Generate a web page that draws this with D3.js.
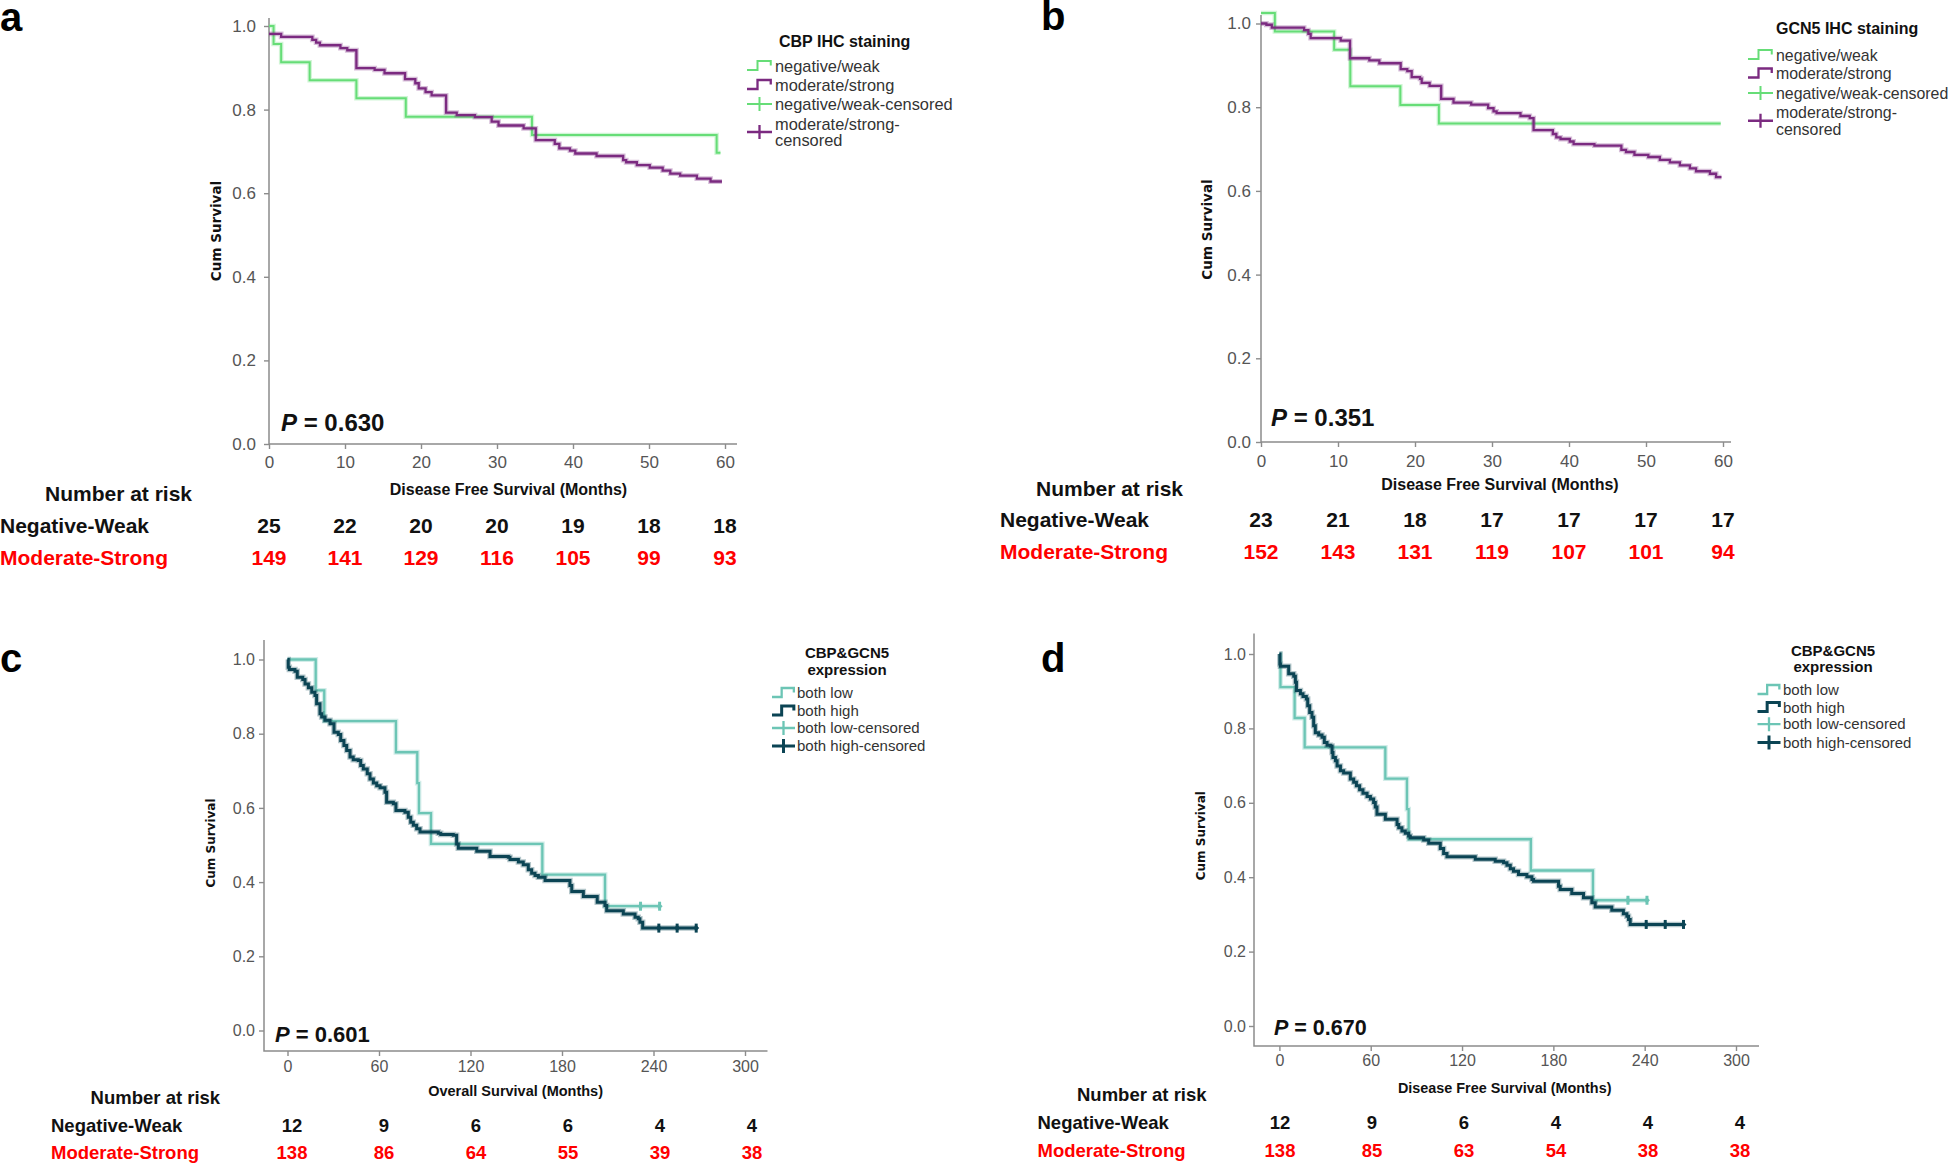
<!DOCTYPE html>
<html>
<head>
<meta charset="utf-8">
<script src="https://cdnjs.cloudflare.com/ajax/libs/d3/7.8.5/d3.min.js"></script>
<style>
  html, body { margin: 0; padding: 0; background: #fff; }
  svg { display: block; font-family: "Liberation Sans", Arial, sans-serif; }
</style>
</head>
<body>
<svg id="chart" width="1950" height="1164"></svg>
<script>
// ---- data: [time in months, cumulative survival] ----
// a: CBP IHC staining, disease free survival
var aNegWeak = [[0,1],[0.6,0.957],[1.6,0.913],[5.35,0.870],[11.5,0.827],[18,0.783],[34.6,0.739],[58.9,0.697],[59.4,0.697]];
var aModStrong = [[0,0.981],[1.6,0.974],[5.7,0.967],[6.2,0.960],[6.7,0.954],[9.4,0.947],[10.3,0.942],[11.5,0.899],
  [13.9,0.895],[15.2,0.887],[17.9,0.873],[19.25,0.863],[19.7,0.851],[20.6,0.842],[21.4,0.834],[23.3,0.793],
  [24.7,0.787],[27.1,0.782],[29.3,0.771],[30.2,0.762],[33.5,0.755],[35.1,0.727],[37.6,0.718],[38.2,0.707],
  [39.6,0.702],[40.3,0.695],[43.1,0.689],[46.6,0.679],[47.0,0.674],[48.4,0.667],[50.1,0.661],[51.8,0.654],
  [52.8,0.647],[54.1,0.642],[56.3,0.635],[58.1,0.628],[59.6,0.628]];

// b: GCN5 IHC staining, disease free survival
var bNegWeak = [[0,1.025],[1.8,0.981],[9.5,0.937],[11.6,0.850],[18.1,0.805],[23.1,0.761],[59.7,0.761]];
var bModStrong = [[0,1.0],[0.7,0.997],[1.4,0.990],[5.6,0.984],[6.15,0.975],[6.45,0.965],[10.35,0.959],[11.56,0.917],
  [14.07,0.912],[15.37,0.905],[18.14,0.891],[19.0,0.886],[19.57,0.872],[20.65,0.868],[20.87,0.858],[21.9,0.851],
  [23.4,0.820],[25.0,0.811],[27.3,0.806],[29.5,0.798],[30.2,0.790],[30.6,0.786],[33.7,0.779],[34.9,0.774],
  [35.4,0.745],[37.9,0.736],[38.35,0.728],[38.9,0.724],[40.1,0.718],[40.6,0.712],[43.3,0.708],[46.8,0.698],
  [47.4,0.693],[48.5,0.686],[50.3,0.681],[51.8,0.674],[53.1,0.668],[54.4,0.661],[55.7,0.654],[56.5,0.647],
  [58.3,0.641],[59.1,0.633],[59.8,0.633]];

// c: CBP&GCN5 expression, overall survival
var cBothLow = [[0,1],[18.5,0.917],[24.1,0.834],[71.1,0.750],[85.1,0.667],[86.2,0.586],[94.1,0.503],
  [167.1,0.420],[208.2,0.335],[244,0.335]];
var cBothHigh = [[0,1],[0.5,0.979],[1.2,0.973],[4.9,0.968],[6.4,0.952],[10.0,0.946],[11.5,0.934],[13.7,0.924],
  [15.9,0.912],[18.0,0.903],[19.1,0.881],[21.3,0.854],[22.4,0.845],[24.6,0.836],[27.9,0.827],[30.5,0.804],
  [33.3,0.798],[34.9,0.782],[37.0,0.768],[38.8,0.755],[41.0,0.737],[43.1,0.730],[46.4,0.728],[48.0,0.714],
  [49.7,0.705],[52.3,0.692],[54.1,0.678],[56.3,0.667],[58.5,0.660],[60.7,0.654],[63.9,0.642],[65.0,0.615],
  [69.4,0.611],[71.1,0.593],[77.0,0.588],[79.2,0.575],[80.8,0.561],[82.5,0.553],[84.7,0.544],[86.9,0.535],
  [98.9,0.532],[100.5,0.528],[108.7,0.526],[110.9,0.503],[112,0.491],[124.1,0.483],[132.8,0.469],[144.8,0.467],
  [145.9,0.461],[151.4,0.454],[154.6,0.447],[157.9,0.433],[160.1,0.424],[162.3,0.418],[164.5,0.413],[168.9,0.404],
  [185.2,0.391],[186.4,0.375],[194.0,0.361],[203.1,0.346],[208.2,0.337],[209.3,0.323],[220.2,0.314],[227.9,0.305],
  [230.0,0.301],[231.1,0.292],[232.9,0.276],[268,0.276]];
var cLowCensored = [231.5, 244];
var cHighCensored = [243.5, 255.5, 268];

// d: CBP&GCN5 expression, disease free survival
var dBothLow = [[0,1],[0.7,0.911],[10.0,0.828],[16.6,0.749],[69.6,0.665],[83.8,0.583],[84.9,0.502],
  [165.2,0.418],[206.0,0.338],[241.5,0.338]];
var dBothHigh = [[0,1],[0.3,0.973],[0.66,0.967],[6.1,0.947],[9.4,0.940],[10.5,0.924],[11.2,0.902],[13.8,0.893],
  [15.5,0.886],[17.7,0.879],[18.6,0.861],[19.9,0.843],[21.4,0.830],[22.5,0.807],[23.6,0.788],[25.8,0.782],
  [28.0,0.776],[29.5,0.762],[31.3,0.755],[33.5,0.753],[34.6,0.735],[35.2,0.722],[36.8,0.713],[37.9,0.699],
  [40.1,0.686],[42.2,0.680],[46.6,0.664],[48.8,0.655],[50.6,0.646],[52.7,0.635],[54.9,0.626],[57.6,0.617],
  [59.8,0.610],[61.9,0.601],[63.0,0.589],[64.1,0.569],[69.6,0.556],[77.3,0.542],[78.4,0.533],[80.5,0.524],
  [82.7,0.518],[84.9,0.511],[86.0,0.506],[94.8,0.500],[98.1,0.491],[105.7,0.477],[107.9,0.464],[110.1,0.455],
  [128.7,0.448],[141.8,0.443],[147.3,0.439],[149.5,0.432],[151.7,0.423],[153.8,0.416],[157.1,0.407],[162.6,0.401],
  [165.9,0.394],[167.0,0.389],[183.4,0.376],[184.5,0.367],[192.1,0.356],[199.8,0.345],[205.3,0.331],[207.5,0.320],
  [218.4,0.311],[226.0,0.302],[228.3,0.295],[229.4,0.286],[230.5,0.273],[265.5,0.273]];
var dLowCensored = [229, 241.5];
var dHighCensored = [241, 253.5, 265.5];

// ticks
var survTicks = [0, 0.2, 0.4, 0.6, 0.8, 1.0];
var monthTicks60 = [0, 10, 20, 30, 40, 50, 60];
var monthTicks300 = [0, 60, 120, 180, 240, 300];

// number at risk
var riskANeg = [25, 22, 20, 20, 19, 18, 18];
var riskAPos = [149, 141, 129, 116, 105, 99, 93];
var riskBNeg = [23, 21, 18, 17, 17, 17, 17];
var riskBPos = [152, 143, 131, 119, 107, 101, 94];
var riskCNeg = [12, 9, 6, 6, 4, 4];
var riskCPos = [138, 86, 64, 55, 39, 38];
var riskDNeg = [12, 9, 6, 4, 4, 4];
var riskDPos = [138, 85, 63, 54, 38, 38];

var ihcLegend = ['negative/weak', 'moderate/strong', 'negative/weak-censored', 'moderate/strong-|censored'];
var comboLegend = ['both low', 'both high', 'both low-censored', 'both high-censored'];

var GREEN = '#66dd77', PURPLE = '#7b2a80', TEAL = '#6cc5b5', DARK = '#0b4454', AXIS = '#8c8c8c';

var svg = d3.select('#chart');

function survAt(curve, t) {
  var v = curve[0][1];
  curve.forEach(function(p) { if (p[0] <= t) v = p[1]; });
  return v;
}

function drawPanel(p) {
  var g = svg.append('g');
  var x = d3.scaleLinear().domain(p.xDomain).range(p.xRange);
  var y = d3.scaleLinear().domain([0, 1]).range(p.yRange);

  // panel letter
  g.append('text').attr('x', p.letterX).attr('y', p.letterY)
    .attr('font-size', 40).attr('font-weight', 'bold').text(p.letter);

  // axes
  var yAxis = g.append('g').attr('transform', 'translate(' + p.axisX + ',0)')
    .call(d3.axisLeft(y).tickValues(survTicks).tickSize(5).tickPadding(p.yPad).tickFormat(d3.format('.1f')));
  var xAxis = g.append('g').attr('transform', 'translate(0,' + p.axisY + ')')
    .call(d3.axisBottom(x).tickValues(p.xTicks).tickSize(5).tickPadding(p.xPad).tickFormat(d3.format('d')));
  [yAxis, xAxis].forEach(function(a) {
    a.select('.domain').remove();
    a.attr('font-family', null).attr('font-size', p.tickSize);
    a.selectAll('line').attr('stroke', AXIS).attr('stroke-width', 1.4);
    a.selectAll('text').attr('fill', '#555');
  });
  g.append('path')
    .attr('d', 'M' + p.axisX + ',' + p.axisTop + 'V' + p.axisY + 'H' + p.axisRight)
    .attr('fill', 'none').attr('stroke', AXIS).attr('stroke-width', 1.5);

  // axis titles
  g.append('text').attr('transform', 'translate(' + p.cumX + ',' + p.cumY + ') rotate(-90)')
    .attr('text-anchor', 'middle').attr('dy', '0.35em')
    .attr('font-family', '"DejaVu Sans", Verdana, sans-serif').attr('font-weight', 'bold')
    .attr('font-size', p.cumSize).attr('fill', '#111').text('Cum Survival');
  g.append('text').attr('x', p.xTitleX).attr('y', p.xTitleY).attr('dy', '0.35em')
    .attr('text-anchor', 'middle').attr('font-weight', 'bold').attr('font-size', p.xTitleSize)
    .attr('fill', '#111').text(p.xTitle);

  // curves
  var line = d3.line().x(function(d) { return x(d[0]); }).y(function(d) { return y(d[1]); })
    .curve(d3.curveStepAfter);
  p.curves.forEach(function(c) {
    g.append('path').attr('d', line(c.data)).attr('fill', 'none')
      .attr('stroke', c.color).attr('stroke-opacity', 0.3).attr('stroke-width', c.width + 2.5);
    g.append('path').attr('d', line(c.data)).attr('fill', 'none')
      .attr('stroke', c.color).attr('stroke-width', c.width);
    (c.censored || []).forEach(function(t) {
      var cx = x(t), cy = y(survAt(c.data, t));
      g.append('path').attr('d', 'M' + cx + ',' + (cy - 4.5) + 'V' + (cy + 4.5))
        .attr('stroke', c.color).attr('stroke-width', 3);
      g.append('path').attr('d', 'M' + (cx - 3) + ',' + cy + 'L' + cx + ',' + (cy - 3) + 'L' + (cx + 3) + ',' + cy +
        'L' + cx + ',' + (cy + 3) + 'Z').attr('fill', c.color);
    });
  });

  // P value
  var pt = g.append('text').attr('x', p.pX).attr('y', p.pY).attr('dy', '0.35em')
    .attr('font-weight', 'bold').attr('font-size', p.pSize).attr('fill', '#111');
  pt.append('tspan').attr('font-style', 'italic').text('P');
  pt.append('tspan').text(' = ' + p.pValue);

  // legend
  var lg = p.legend;
  lg.title.forEach(function(t, i) {
    g.append('text').attr('x', lg.titleX).attr('y', lg.titleY[i]).attr('dy', '0.35em')
      .attr('text-anchor', lg.titleAnchor).attr('font-weight', 'bold').attr('font-size', lg.titleSize)
      .attr('fill', '#111').text(t);
  });
  lg.labels.forEach(function(lab, i) {
    var color = p.curves[i % 2].color, w = lg.glyphW, gx = lg.glyphX;
    var lines = lab.split('|');
    var rowY = lg.rows[i];
    var cy = lines.length > 1 ? (rowY + lg.lineGap / 2) : rowY;
    var d = i < 2
      ? 'M' + gx + ',' + (cy + 4) + 'H' + (gx + w * 0.42) + 'V' + (cy - 5) + 'H' + (gx + w * 0.95) + 'V' + (cy - 0.5)
      : 'M' + gx + ',' + cy + 'H' + (gx + w) + 'M' + (gx + w / 2) + ',' + (cy - 7) + 'V' + (cy + 7);
    g.append('path').attr('d', d).attr('fill', 'none').attr('stroke', color)
      .attr('stroke-width', p.curves[i % 2].width);
    lines.forEach(function(l, j) {
      g.append('text').attr('x', lg.textX).attr('y', rowY + j * lg.lineGap).attr('dy', '0.35em')
        .attr('font-size', lg.itemSize).attr('fill', '#333').text(l);
    });
  });

  // number at risk table
  var rk = p.risk;
  var rx = d3.scaleLinear().domain(p.xDomain).range(rk.range || p.xRange);
  g.append('text').attr('x', rk.headerX).attr('y', rk.headerY).attr('dy', '0.35em')
    .attr('font-weight', 'bold').attr('font-size', rk.size).attr('fill', '#111').text('Number at risk');
  [{name: 'Negative-Weak', vals: rk.neg, color: '#111', y: rk.rowY[0]},
   {name: 'Moderate-Strong', vals: rk.pos, color: '#ff0000', y: rk.rowY[1]}].forEach(function(r) {
    g.append('text').attr('x', rk.labelX).attr('y', r.y).attr('dy', '0.35em')
      .attr('font-weight', 'bold').attr('font-size', rk.size).attr('fill', r.color).text(r.name);
    g.selectAll(null).data(r.vals).enter().append('text')
      .attr('x', function(d, i) { return rx(p.xTicks[i]); }).attr('y', r.y).attr('dy', '0.35em')
      .attr('text-anchor', 'middle').attr('font-weight', 'bold').attr('font-size', rk.size)
      .attr('fill', r.color).text(function(d) { return d; });
  });
}

drawPanel({
  letter: 'a', letterX: 0, letterY: 31,
  xDomain: [0, 60], xRange: [269, 725], yRange: [444, 26], xTicks: monthTicks60,
  axisX: 269, axisTop: 18, axisY: 444, axisRight: 737, tickSize: 17, yPad: 8, xPad: 7,
  cumX: 216, cumY: 231, cumSize: 13.5,
  xTitle: 'Disease Free Survival (Months)', xTitleX: 508.5, xTitleY: 489, xTitleSize: 16,
  pX: 281, pY: 422.5, pSize: 24, pValue: '0.630',
  curves: [{data: aNegWeak, color: GREEN, width: 2}, {data: aModStrong, color: PURPLE, width: 2.3}],
  legend: {title: ['CBP IHC staining'], titleX: 779, titleY: [41], titleAnchor: 'start', titleSize: 16,
    labels: ihcLegend, glyphX: 747, glyphW: 25, textX: 775, rows: [66, 85, 104, 124], lineGap: 16, itemSize: 16.4},
  risk: {headerX: 45, headerY: 493.5, labelX: 0, rowY: [525.5, 557.5], size: 21, neg: riskANeg, pos: riskAPos}
});

drawPanel({
  letter: 'b', letterX: 1041, letterY: 30,
  xDomain: [0, 60], xRange: [1261, 1723], yRange: [442, 23.5], xTicks: monthTicks60,
  axisX: 1261, axisTop: 15, axisY: 442, axisRight: 1731, tickSize: 17, yPad: 5, xPad: 8,
  cumX: 1207.5, cumY: 229.5, cumSize: 13.5,
  xTitle: 'Disease Free Survival (Months)', xTitleX: 1500, xTitleY: 484, xTitleSize: 16,
  pX: 1271, pY: 418, pSize: 24, pValue: '0.351',
  curves: [{data: bNegWeak, color: GREEN, width: 2}, {data: bModStrong, color: PURPLE, width: 2.3}],
  legend: {title: ['GCN5 IHC staining'], titleX: 1776, titleY: [28], titleAnchor: 'start', titleSize: 16,
    labels: ihcLegend, glyphX: 1748, glyphW: 25, textX: 1776, rows: [55, 73.5, 93, 112], lineGap: 17.5, itemSize: 15.9},
  risk: {headerX: 1036, headerY: 488.5, labelX: 1000, rowY: [519.5, 551.5], size: 21, neg: riskBNeg, pos: riskBPos}
});

drawPanel({
  letter: 'c', letterX: 0, letterY: 672,
  xDomain: [0, 300], xRange: [287.5, 745], yRange: [1030.5, 659.5], xTicks: monthTicks300,
  axisX: 264, axisTop: 640, axisY: 1051, axisRight: 767.5, tickSize: 16, yPad: 4, xPad: 5,
  cumX: 211, cumY: 843, cumSize: 12,
  xTitle: 'Overall Survival (Months)', xTitleX: 515.6, xTitleY: 1091.3, xTitleSize: 14.5,
  pX: 275, pY: 1034, pSize: 22, pValue: '0.601',
  curves: [{data: cBothLow, color: TEAL, width: 2.3, censored: cLowCensored},
           {data: cBothHigh, color: DARK, width: 3, censored: cHighCensored}],
  legend: {title: ['CBP&GCN5', 'expression'], titleX: 847, titleY: [653, 670], titleAnchor: 'middle', titleSize: 15,
    labels: comboLegend, glyphX: 772, glyphW: 23, textX: 797, rows: [693, 711, 728, 746], lineGap: 16, itemSize: 15},
  risk: {headerX: 90.6, headerY: 1098, labelX: 51, rowY: [1126, 1153], size: 18.5,
    neg: riskCNeg, pos: riskCPos, range: [292, 752]}
});

drawPanel({
  letter: 'd', letterX: 1041, letterY: 672,
  xDomain: [0, 300], xRange: [1279.4, 1736], yRange: [1026, 654], xTicks: monthTicks300,
  axisX: 1254, axisTop: 633.5, axisY: 1046, axisRight: 1759, tickSize: 16, yPad: 3, xPad: 4,
  cumX: 1201, cumY: 835.7, cumSize: 12,
  xTitle: 'Disease Free Survival (Months)', xTitleX: 1504.7, xTitleY: 1088.4, xTitleSize: 14.4,
  pX: 1274, pY: 1027, pSize: 21.5, pValue: '0.670',
  curves: [{data: dBothLow, color: TEAL, width: 2.3, censored: dLowCensored},
           {data: dBothHigh, color: DARK, width: 3, censored: dHighCensored}],
  legend: {title: ['CBP&GCN5', 'expression'], titleX: 1833, titleY: [651, 666.7], titleAnchor: 'middle', titleSize: 15,
    labels: comboLegend, glyphX: 1757.5, glyphW: 23, textX: 1783, rows: [690, 707.4, 724.2, 742.4], lineGap: 16, itemSize: 15},
  risk: {headerX: 1077, headerY: 1094.5, labelX: 1037.5, rowY: [1122.5, 1150.5], size: 18.5,
    neg: riskDNeg, pos: riskDPos, range: [1280, 1740]}
});
</script>
</body>
</html>
